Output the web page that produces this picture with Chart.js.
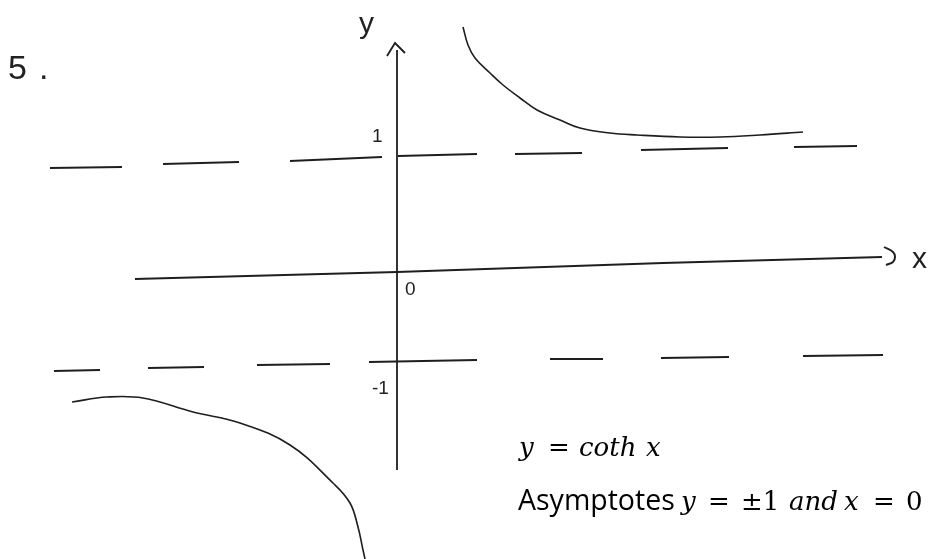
<!DOCTYPE html>
<html>
<head>
<meta charset="utf-8">
<script src="https://cdn.jsdelivr.net/npm/chart.js@4.4.1/dist/chart.umd.min.js"></script>
<style>
  body { margin: 0; background: #fff; }
  #wrap { position: relative; width: 939px; height: 559px; }
  canvas { position: absolute; left: 0; top: 0; }
  .hand { position: absolute; font-family: "Liberation Sans", sans-serif; color: #222; line-height: 1; }
  .tk { position: absolute; line-height: 1; white-space: nowrap; color: #000; }
  .m { font-family: "DejaVu Serif", serif; font-style: italic; font-size: 26px; }
  .r { font-family: "DejaVu Serif", serif; font-size: 26px; }
  .t { font-family: "Open Sans", sans-serif; font-size: 28.5px; }
  /* line 1 baseline ~456, line 2 baseline ~510 */
  .l1.m, .l1.r { top: 434px; }
  .l2.m, .l2.r { top: 488px; }
  .l2.t { top: 485px; }
</style>
</head>
<body>
<div id="wrap">
  <canvas id="sketch" width="939" height="559"></canvas>
  <div class="hand" style="left:8px;top:50px;font-size:34px;">5<span style="margin-left:12px;">.</span></div>
  <div class="hand" style="left:359px;top:8px;font-size:30px;">y</div>
  <div class="hand" style="left:372px;top:126px;font-size:19px;">1</div>
  <div class="hand" style="left:405px;top:279px;font-size:19px;">0</div>
  <div class="hand" style="left:372px;top:378px;font-size:19px;">-1</div>
  <div class="hand" style="left:912px;top:243px;font-size:30px;">x</div>

  <span class="tk m l1" style="left:519px;">y</span>
  <span class="tk r l1" style="left:548px;">=</span>
  <span class="tk m l1" style="left:579px;">coth</span>
  <span class="tk m l1" style="left:646px;">x</span>

  <span class="tk t l2" style="left:518px;">Asymptotes</span>
  <span class="tk m l2" style="left:681px;">y</span>
  <span class="tk r l2" style="left:708px;">=</span>
  <span class="tk r l2" style="left:741px;">±1</span>
  <span class="tk m l2" style="left:789px;">and</span>
  <span class="tk m l2" style="left:844px;">x</span>
  <span class="tk r l2" style="left:873px;">=</span>
  <span class="tk r l2" style="left:906px;">0</span>
</div>
<script>
// hand sketch of y = coth x, values in sketch units (origin where the axes cross)

// dashed asymptote near y = 1, one [x1, y1, x2, y2] per dash
const upperDashes = [
  [-3.47, 1.04, -2.75, 1.05],
  [-2.34, 1.08, -1.58, 1.10],
  [-1.07, 1.11, -0.15, 1.15],
  [0.01, 1.16, 0.80, 1.18],
  [1.18, 1.18, 1.85, 1.19],
  [2.44, 1.22, 3.31, 1.24],
  [3.97, 1.25, 4.60, 1.26],
];

// dashed asymptote near y = -1
const lowerDashes = [
  [-3.43, -0.99, -2.97, -0.98],
  [-2.49, -0.96, -1.93, -0.95],
  [-1.40, -0.93, -0.67, -0.92],
  [-0.28, -0.90, 0.80, -0.88],
  [1.53, -0.87, 2.06, -0.87],
  [2.64, -0.86, 3.32, -0.85],
  [4.06, -0.84, 4.86, -0.83],
];

// axes
const xAxisX = [-2.62, 0, 2.66, 4.85];
const xAxisY = [-0.07, 0, 0.09, 0.15];
const yAxisX = [0, 0];
const yAxisY = [2.22, -1.98];
const yArrowX = [-0.10, -0.02, 0.08];
const yArrowY = [2.16, 2.29, 2.19];
const xArrowX = [4.87, 4.96, 4.98, 4.96, 4.89];
const xArrowY = [0.25, 0.20, 0.15, 0.10, 0.07];

// branch for x > 0
const rightX = [0.66, 0.71, 0.78, 0.93, 1.06, 1.23, 1.40, 1.63, 1.83, 2.13, 2.40, 2.83, 3.23, 3.63, 4.06];
const rightY = [2.45, 2.27, 2.14, 1.99, 1.87, 1.74, 1.62, 1.52, 1.44, 1.39, 1.37, 1.35, 1.35, 1.37, 1.40];

// branch for x < 0
const leftX = [-3.25, -2.90, -2.54, -2.04, -1.57, -1.07, -0.64, -0.47, -0.39, -0.34, -0.32];
const leftY = [-1.30, -1.25, -1.26, -1.40, -1.51, -1.73, -2.11, -2.31, -2.55, -2.78, -2.87];

function pts(xs, ys) {
  return xs.map((x, i) => ({ x: x, y: ys[i] }));
}

// dashes joined into one series, broken with null gaps
function dashPts(dashes) {
  const out = [];
  dashes.forEach((d) => {
    out.push({ x: d[0], y: d[1] });
    out.push({ x: d[2], y: d[3] });
    out.push({ x: d[2], y: null });
  });
  return out;
}

const ink = "#1e1e1e";

function line(data, width, tension) {
  return {
    data: data,
    showLine: true,
    borderColor: ink,
    borderWidth: width,
    pointRadius: 0,
    tension: tension || 0,
    spanGaps: false,
  };
}

const ctx = document.getElementById("sketch").getContext("2d");
new Chart(ctx, {
  type: "scatter",
  data: {
    datasets: [
      line(dashPts(upperDashes), 1.8),
      line(dashPts(lowerDashes), 1.8),
      line(pts(xAxisX, xAxisY), 1.8),
      line(pts(yAxisX, yAxisY), 1.8),
      line(pts(yArrowX, yArrowY), 1.8),
      line(pts(xArrowX, xArrowY), 2, 0.4),
      line(pts(rightX, rightY), 1.6, 0.4),
      line(pts(leftX, leftY), 1.6, 0.4),
    ],
  },
  options: {
    responsive: false,
    animation: false,
    layout: { padding: 0 },
    scales: {
      x: { type: "linear", min: -3.97, max: 5.42, display: false },
      y: { type: "linear", min: -2.87, max: 2.72, display: false },
    },
    plugins: { legend: { display: false }, tooltip: { enabled: false } },
  },
});
</script>
</body>
</html>
